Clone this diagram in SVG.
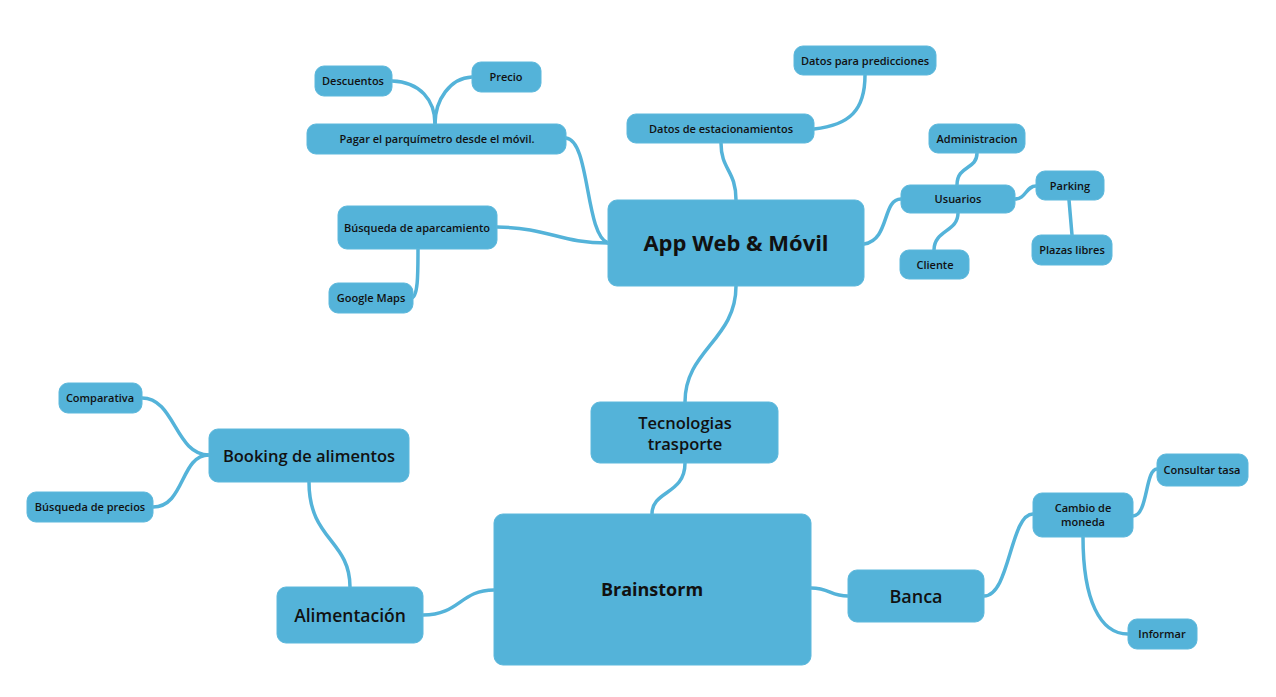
<svg xmlns="http://www.w3.org/2000/svg" width="1276" height="697" viewBox="0 0 1276 697">
<style>
.n rect{fill:#54b3d9;stroke:#5cb8dc;stroke-width:1}
.n text{font-family:"Open Sans","Noto Sans",sans-serif;fill:#111;text-anchor:middle}
.s text{font-size:11px;font-weight:600}
.m text{font-size:16.5px;font-weight:600}
.c path{fill:none;stroke:#54b3d9;stroke-width:3.5;stroke-linecap:round}
</style>
<rect width="1276" height="697" fill="#fff"/>
<g id="connectors" class="c">
<path d="M736,286 C736,340 685,350 685,402"/>
<path d="M685,463 C685,495 652,490 652,514"/>
<path d="M736,200 C736,170 721,170 721,143"/>
<path d="M814,129 C850,125 865,110 865,75"/>
<path d="M864,244 C890,240 882,199 901,199"/>
<path d="M957,185 C957,165 977,170 977,153"/>
<path d="M958,213 C958,232 934,230 934,250"/>
<path d="M1015,199 C1026,199 1026,186 1036,186"/>
<path d="M1069,200 L1072,235"/>
<path d="M392,81 C420,82 435,100 435,124"/>
<path d="M472,77 C450,78 435,100 435,124"/>
<path d="M566,138 C590,140 585,235 608,243"/>
<path d="M497,227 C550,228 560,243 608,243"/>
<path d="M418,249 C418,275 418,298 411,298"/>
<path d="M142,398 C175,398 175,455 209,455"/>
<path d="M153,507 C185,507 180,455 209,455"/>
<path d="M309,482 C309,540 350,540 350,587"/>
<path d="M423,615 C460,615 460,590 494,590"/>
<path d="M811,588 C830,588 830,596 848,596"/>
<path d="M984,596 C1010,596 1010,514 1033,514"/>
<path d="M1133,516 C1148,516 1145,469 1157,469"/>
<path d="M1083,537 C1083,600 1100,634 1128,634"/>
</g>
<g id="brainstorm" class="n"><rect x="494" y="514" width="317" height="151" rx="9"/><text x="652" y="596" style="font-size:18px;font-weight:700">Brainstorm</text></g>
<g id="tecnologias" class="n m"><rect x="591" y="402" width="187" height="61" rx="9"/><text x="685" y="429">Tecnologias</text><text x="685" y="450">trasporte</text></g>
<g id="app" class="n"><rect x="608" y="200" width="256" height="86" rx="9"/><text x="736" y="251" style="font-size:22px;font-weight:700">App Web &amp; Móvil</text></g>
<g id="datos-est" class="n s"><rect x="627" y="114" width="187" height="29" rx="9"/><text x="721" y="133">Datos de estacionamientos</text></g>
<g id="datos-pred" class="n s"><rect x="794" y="46" width="142" height="29" rx="9"/><text x="865" y="65">Datos para predicciones</text></g>
<g id="usuarios" class="n s"><rect x="901" y="185" width="114" height="28" rx="9"/><text x="958" y="203">Usuarios</text></g>
<g id="admin" class="n s"><rect x="929" y="124" width="96" height="29" rx="9"/><text x="977" y="143">Administracion</text></g>
<g id="cliente" class="n s"><rect x="900" y="250" width="69" height="29" rx="9"/><text x="935" y="269">Cliente</text></g>
<g id="parking" class="n s"><rect x="1036" y="171" width="68" height="29" rx="9"/><text x="1070" y="190">Parking</text></g>
<g id="plazas" class="n s"><rect x="1032" y="235" width="80" height="30" rx="9"/><text x="1072" y="254">Plazas libres</text></g>
<g id="descuentos" class="n s"><rect x="315" y="66" width="77" height="30" rx="9"/><text x="353" y="85">Descuentos</text></g>
<g id="precio" class="n s"><rect x="472" y="62" width="69" height="30" rx="9"/><text x="506" y="81">Precio</text></g>
<g id="pagar" class="n s"><rect x="307" y="124" width="259" height="30" rx="9"/><text x="437" y="143">Pagar el parquímetro desde el móvil.</text></g>
<g id="busqueda-ap" class="n s"><rect x="338" y="206" width="159" height="43" rx="9"/><text x="417" y="232">Búsqueda de aparcamiento</text></g>
<g id="google" class="n s"><rect x="329" y="283" width="84" height="30" rx="9"/><text x="371" y="302">Google Maps</text></g>
<g id="comparativa" class="n s"><rect x="59" y="383" width="83" height="30" rx="9"/><text x="100" y="402">Comparativa</text></g>
<g id="booking" class="n m"><rect x="209" y="429" width="200" height="53" rx="9"/><text x="309" y="462">Booking de alimentos</text></g>
<g id="busqueda-pr" class="n s"><rect x="27" y="492" width="126" height="30" rx="9"/><text x="90" y="511">Búsqueda de precios</text></g>
<g id="alimentacion" class="n"><rect x="277" y="587" width="146" height="56" rx="9"/><text x="350" y="622" style="font-size:17.5px;font-weight:600">Alimentación</text></g>
<g id="banca" class="n"><rect x="848" y="570" width="136" height="52" rx="9"/><text x="916" y="603" style="font-size:18px;font-weight:600">Banca</text></g>
<g id="cambio" class="n s"><rect x="1033" y="493" width="100" height="44" rx="9"/><text x="1083" y="512">Cambio de</text><text x="1083" y="526">moneda</text></g>
<g id="consultar" class="n s"><rect x="1157" y="454" width="91" height="32" rx="9"/><text x="1202" y="474">Consultar tasa</text></g>
<g id="informar" class="n s"><rect x="1128" y="619" width="69" height="30" rx="9"/><text x="1162" y="638">Informar</text></g>
</svg>
